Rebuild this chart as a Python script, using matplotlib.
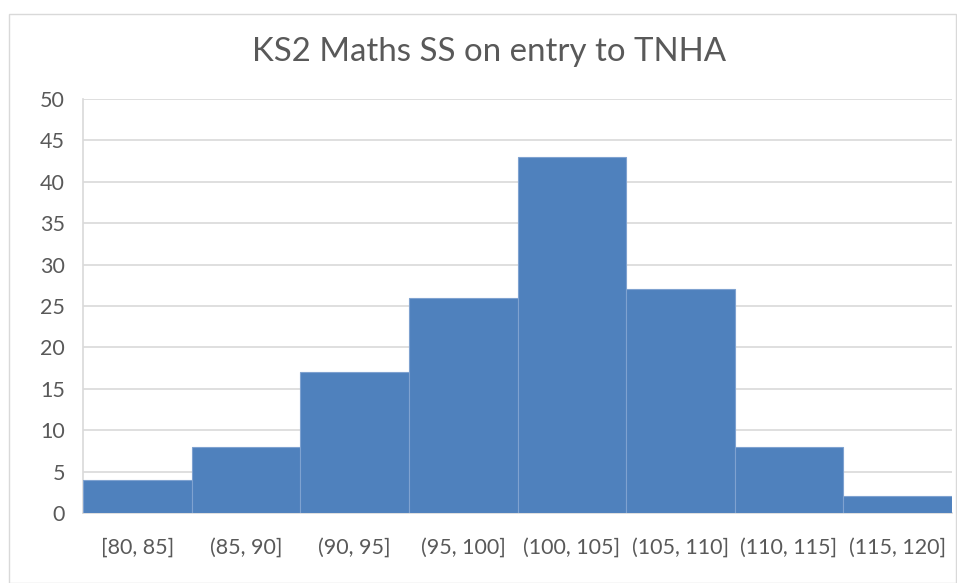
import matplotlib.pyplot as plt
from matplotlib.patches import Rectangle

plt.rcParams['font.family'] = ['Lato', 'DejaVu Sans']

# bins and counts
bin_labels = ['[80, 85]', '(85, 90]', '(90, 95]', '(95, 100]',
              '(100, 105]', '(105, 110]', '(110, 115]', '(115, 120]']
counts = [4, 8, 17, 26, 43, 27, 8, 2]
y_ticks = [0, 5, 10, 15, 20, 25, 30, 35, 40, 45, 50]

text_col = '#595959'
grid_col = '#D9D9D9'

fig = plt.figure(figsize=(9.57, 5.83), dpi=100)
ax = fig.add_axes([83 / 957, 1 - 513 / 583, (952 - 83) / 957, (513 - 99) / 583])

x = range(len(counts))
ax.bar(x, counts, width=1.0, color='#4F81BD', edgecolor='#7FA2D0', linewidth=0.8, zorder=3)

ax.set_xlim(-0.5, len(counts) - 0.5)
ax.set_ylim(0, 50)
ax.set_yticks(y_ticks)
ax.set_xticks(list(x))
ax.set_xticklabels(bin_labels)

ax.grid(axis='y', color=grid_col, linewidth=1.2, zorder=0)
for side in ['top', 'right']:
    ax.spines[side].set_visible(False)
for side in ['left', 'bottom']:
    ax.spines[side].set_color(grid_col)
    ax.spines[side].set_linewidth(1.2)
ax.tick_params(axis='both', length=0, colors=text_col, labelsize=15.5)
ax.tick_params(axis='x', pad=18)
ax.tick_params(axis='y', pad=13)

fig.text(0.511, 1 - 52 / 583, 'KS2 Maths SS on entry to TNHA', ha='center', va='center',
         fontsize=23.8, color=text_col)

# outer chart border
fig.patches.append(Rectangle((9 / 957, 0), 1 - 9 / 957 - 0.001, 1 - 14 / 583,
                             transform=fig.transFigure, fill=False,
                             edgecolor=grid_col, linewidth=1.0))

fig.savefig('out.png', dpi=100)
